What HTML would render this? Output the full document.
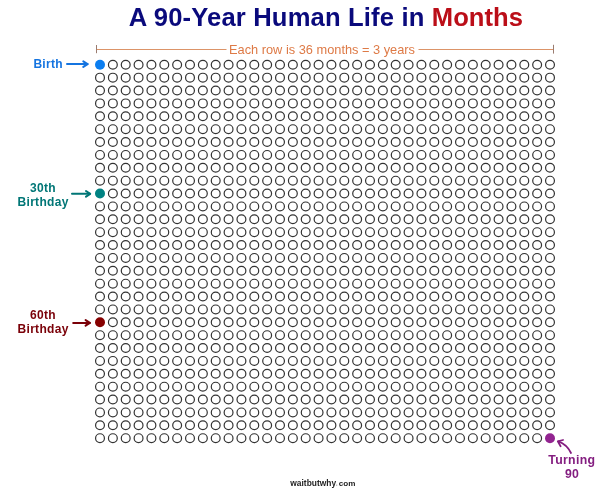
<!DOCTYPE html>
<html><head><meta charset="utf-8">
<style>
html,body{margin:0;padding:0;background:#fff;width:600px;height:492px;overflow:hidden}
svg{display:block;will-change:transform}
text{font-family:"Liberation Sans",sans-serif;font-weight:bold}
</style></head><body>
<svg width="600" height="492" viewBox="0 0 600 492">
<text x="128.8" y="26.45" font-size="25.6" fill="#0a0a7c"><tspan letter-spacing="0.16">A 90-Year Human Life in </tspan><tspan fill="#bb0e18" letter-spacing="0.02">Months</tspan></text>
<g stroke="#dc9468" stroke-width="1" fill="none">
<line x1="96.5" y1="49.5" x2="226.5" y2="49.5"/>
<line x1="418.5" y1="49.5" x2="553.5" y2="49.5"/>
</g>
<g stroke="#9a7c70" stroke-width="1">
<line x1="96.5" y1="45" x2="96.5" y2="53.2"/>
<line x1="553.5" y1="44.8" x2="553.5" y2="53.6"/>
</g>
<text x="322" y="53.8" font-size="12.8" fill="#de7a46" text-anchor="middle" style="font-weight:normal">Each row is 36 months = 3 years</text>
<g fill="none" stroke="#333" stroke-width="1.2">
<circle cx="112.86" cy="64.80" r="4.42"/>
<circle cx="125.71" cy="64.80" r="4.42"/>
<circle cx="138.57" cy="64.80" r="4.42"/>
<circle cx="151.43" cy="64.80" r="4.42"/>
<circle cx="164.29" cy="64.80" r="4.42"/>
<circle cx="177.14" cy="64.80" r="4.42"/>
<circle cx="190.00" cy="64.80" r="4.42"/>
<circle cx="202.86" cy="64.80" r="4.42"/>
<circle cx="215.71" cy="64.80" r="4.42"/>
<circle cx="228.57" cy="64.80" r="4.42"/>
<circle cx="241.43" cy="64.80" r="4.42"/>
<circle cx="254.29" cy="64.80" r="4.42"/>
<circle cx="267.14" cy="64.80" r="4.42"/>
<circle cx="280.00" cy="64.80" r="4.42"/>
<circle cx="292.86" cy="64.80" r="4.42"/>
<circle cx="305.71" cy="64.80" r="4.42"/>
<circle cx="318.57" cy="64.80" r="4.42"/>
<circle cx="331.43" cy="64.80" r="4.42"/>
<circle cx="344.29" cy="64.80" r="4.42"/>
<circle cx="357.14" cy="64.80" r="4.42"/>
<circle cx="370.00" cy="64.80" r="4.42"/>
<circle cx="382.86" cy="64.80" r="4.42"/>
<circle cx="395.71" cy="64.80" r="4.42"/>
<circle cx="408.57" cy="64.80" r="4.42"/>
<circle cx="421.43" cy="64.80" r="4.42"/>
<circle cx="434.29" cy="64.80" r="4.42"/>
<circle cx="447.14" cy="64.80" r="4.42"/>
<circle cx="460.00" cy="64.80" r="4.42"/>
<circle cx="472.86" cy="64.80" r="4.42"/>
<circle cx="485.71" cy="64.80" r="4.42"/>
<circle cx="498.57" cy="64.80" r="4.42"/>
<circle cx="511.43" cy="64.80" r="4.42"/>
<circle cx="524.29" cy="64.80" r="4.42"/>
<circle cx="537.14" cy="64.80" r="4.42"/>
<circle cx="550.00" cy="64.80" r="4.42"/>
<circle cx="100.00" cy="77.67" r="4.42"/>
<circle cx="112.86" cy="77.67" r="4.42"/>
<circle cx="125.71" cy="77.67" r="4.42"/>
<circle cx="138.57" cy="77.67" r="4.42"/>
<circle cx="151.43" cy="77.67" r="4.42"/>
<circle cx="164.29" cy="77.67" r="4.42"/>
<circle cx="177.14" cy="77.67" r="4.42"/>
<circle cx="190.00" cy="77.67" r="4.42"/>
<circle cx="202.86" cy="77.67" r="4.42"/>
<circle cx="215.71" cy="77.67" r="4.42"/>
<circle cx="228.57" cy="77.67" r="4.42"/>
<circle cx="241.43" cy="77.67" r="4.42"/>
<circle cx="254.29" cy="77.67" r="4.42"/>
<circle cx="267.14" cy="77.67" r="4.42"/>
<circle cx="280.00" cy="77.67" r="4.42"/>
<circle cx="292.86" cy="77.67" r="4.42"/>
<circle cx="305.71" cy="77.67" r="4.42"/>
<circle cx="318.57" cy="77.67" r="4.42"/>
<circle cx="331.43" cy="77.67" r="4.42"/>
<circle cx="344.29" cy="77.67" r="4.42"/>
<circle cx="357.14" cy="77.67" r="4.42"/>
<circle cx="370.00" cy="77.67" r="4.42"/>
<circle cx="382.86" cy="77.67" r="4.42"/>
<circle cx="395.71" cy="77.67" r="4.42"/>
<circle cx="408.57" cy="77.67" r="4.42"/>
<circle cx="421.43" cy="77.67" r="4.42"/>
<circle cx="434.29" cy="77.67" r="4.42"/>
<circle cx="447.14" cy="77.67" r="4.42"/>
<circle cx="460.00" cy="77.67" r="4.42"/>
<circle cx="472.86" cy="77.67" r="4.42"/>
<circle cx="485.71" cy="77.67" r="4.42"/>
<circle cx="498.57" cy="77.67" r="4.42"/>
<circle cx="511.43" cy="77.67" r="4.42"/>
<circle cx="524.29" cy="77.67" r="4.42"/>
<circle cx="537.14" cy="77.67" r="4.42"/>
<circle cx="550.00" cy="77.67" r="4.42"/>
<circle cx="100.00" cy="90.55" r="4.42"/>
<circle cx="112.86" cy="90.55" r="4.42"/>
<circle cx="125.71" cy="90.55" r="4.42"/>
<circle cx="138.57" cy="90.55" r="4.42"/>
<circle cx="151.43" cy="90.55" r="4.42"/>
<circle cx="164.29" cy="90.55" r="4.42"/>
<circle cx="177.14" cy="90.55" r="4.42"/>
<circle cx="190.00" cy="90.55" r="4.42"/>
<circle cx="202.86" cy="90.55" r="4.42"/>
<circle cx="215.71" cy="90.55" r="4.42"/>
<circle cx="228.57" cy="90.55" r="4.42"/>
<circle cx="241.43" cy="90.55" r="4.42"/>
<circle cx="254.29" cy="90.55" r="4.42"/>
<circle cx="267.14" cy="90.55" r="4.42"/>
<circle cx="280.00" cy="90.55" r="4.42"/>
<circle cx="292.86" cy="90.55" r="4.42"/>
<circle cx="305.71" cy="90.55" r="4.42"/>
<circle cx="318.57" cy="90.55" r="4.42"/>
<circle cx="331.43" cy="90.55" r="4.42"/>
<circle cx="344.29" cy="90.55" r="4.42"/>
<circle cx="357.14" cy="90.55" r="4.42"/>
<circle cx="370.00" cy="90.55" r="4.42"/>
<circle cx="382.86" cy="90.55" r="4.42"/>
<circle cx="395.71" cy="90.55" r="4.42"/>
<circle cx="408.57" cy="90.55" r="4.42"/>
<circle cx="421.43" cy="90.55" r="4.42"/>
<circle cx="434.29" cy="90.55" r="4.42"/>
<circle cx="447.14" cy="90.55" r="4.42"/>
<circle cx="460.00" cy="90.55" r="4.42"/>
<circle cx="472.86" cy="90.55" r="4.42"/>
<circle cx="485.71" cy="90.55" r="4.42"/>
<circle cx="498.57" cy="90.55" r="4.42"/>
<circle cx="511.43" cy="90.55" r="4.42"/>
<circle cx="524.29" cy="90.55" r="4.42"/>
<circle cx="537.14" cy="90.55" r="4.42"/>
<circle cx="550.00" cy="90.55" r="4.42"/>
<circle cx="100.00" cy="103.42" r="4.42"/>
<circle cx="112.86" cy="103.42" r="4.42"/>
<circle cx="125.71" cy="103.42" r="4.42"/>
<circle cx="138.57" cy="103.42" r="4.42"/>
<circle cx="151.43" cy="103.42" r="4.42"/>
<circle cx="164.29" cy="103.42" r="4.42"/>
<circle cx="177.14" cy="103.42" r="4.42"/>
<circle cx="190.00" cy="103.42" r="4.42"/>
<circle cx="202.86" cy="103.42" r="4.42"/>
<circle cx="215.71" cy="103.42" r="4.42"/>
<circle cx="228.57" cy="103.42" r="4.42"/>
<circle cx="241.43" cy="103.42" r="4.42"/>
<circle cx="254.29" cy="103.42" r="4.42"/>
<circle cx="267.14" cy="103.42" r="4.42"/>
<circle cx="280.00" cy="103.42" r="4.42"/>
<circle cx="292.86" cy="103.42" r="4.42"/>
<circle cx="305.71" cy="103.42" r="4.42"/>
<circle cx="318.57" cy="103.42" r="4.42"/>
<circle cx="331.43" cy="103.42" r="4.42"/>
<circle cx="344.29" cy="103.42" r="4.42"/>
<circle cx="357.14" cy="103.42" r="4.42"/>
<circle cx="370.00" cy="103.42" r="4.42"/>
<circle cx="382.86" cy="103.42" r="4.42"/>
<circle cx="395.71" cy="103.42" r="4.42"/>
<circle cx="408.57" cy="103.42" r="4.42"/>
<circle cx="421.43" cy="103.42" r="4.42"/>
<circle cx="434.29" cy="103.42" r="4.42"/>
<circle cx="447.14" cy="103.42" r="4.42"/>
<circle cx="460.00" cy="103.42" r="4.42"/>
<circle cx="472.86" cy="103.42" r="4.42"/>
<circle cx="485.71" cy="103.42" r="4.42"/>
<circle cx="498.57" cy="103.42" r="4.42"/>
<circle cx="511.43" cy="103.42" r="4.42"/>
<circle cx="524.29" cy="103.42" r="4.42"/>
<circle cx="537.14" cy="103.42" r="4.42"/>
<circle cx="550.00" cy="103.42" r="4.42"/>
<circle cx="100.00" cy="116.30" r="4.42"/>
<circle cx="112.86" cy="116.30" r="4.42"/>
<circle cx="125.71" cy="116.30" r="4.42"/>
<circle cx="138.57" cy="116.30" r="4.42"/>
<circle cx="151.43" cy="116.30" r="4.42"/>
<circle cx="164.29" cy="116.30" r="4.42"/>
<circle cx="177.14" cy="116.30" r="4.42"/>
<circle cx="190.00" cy="116.30" r="4.42"/>
<circle cx="202.86" cy="116.30" r="4.42"/>
<circle cx="215.71" cy="116.30" r="4.42"/>
<circle cx="228.57" cy="116.30" r="4.42"/>
<circle cx="241.43" cy="116.30" r="4.42"/>
<circle cx="254.29" cy="116.30" r="4.42"/>
<circle cx="267.14" cy="116.30" r="4.42"/>
<circle cx="280.00" cy="116.30" r="4.42"/>
<circle cx="292.86" cy="116.30" r="4.42"/>
<circle cx="305.71" cy="116.30" r="4.42"/>
<circle cx="318.57" cy="116.30" r="4.42"/>
<circle cx="331.43" cy="116.30" r="4.42"/>
<circle cx="344.29" cy="116.30" r="4.42"/>
<circle cx="357.14" cy="116.30" r="4.42"/>
<circle cx="370.00" cy="116.30" r="4.42"/>
<circle cx="382.86" cy="116.30" r="4.42"/>
<circle cx="395.71" cy="116.30" r="4.42"/>
<circle cx="408.57" cy="116.30" r="4.42"/>
<circle cx="421.43" cy="116.30" r="4.42"/>
<circle cx="434.29" cy="116.30" r="4.42"/>
<circle cx="447.14" cy="116.30" r="4.42"/>
<circle cx="460.00" cy="116.30" r="4.42"/>
<circle cx="472.86" cy="116.30" r="4.42"/>
<circle cx="485.71" cy="116.30" r="4.42"/>
<circle cx="498.57" cy="116.30" r="4.42"/>
<circle cx="511.43" cy="116.30" r="4.42"/>
<circle cx="524.29" cy="116.30" r="4.42"/>
<circle cx="537.14" cy="116.30" r="4.42"/>
<circle cx="550.00" cy="116.30" r="4.42"/>
<circle cx="100.00" cy="129.18" r="4.42"/>
<circle cx="112.86" cy="129.18" r="4.42"/>
<circle cx="125.71" cy="129.18" r="4.42"/>
<circle cx="138.57" cy="129.18" r="4.42"/>
<circle cx="151.43" cy="129.18" r="4.42"/>
<circle cx="164.29" cy="129.18" r="4.42"/>
<circle cx="177.14" cy="129.18" r="4.42"/>
<circle cx="190.00" cy="129.18" r="4.42"/>
<circle cx="202.86" cy="129.18" r="4.42"/>
<circle cx="215.71" cy="129.18" r="4.42"/>
<circle cx="228.57" cy="129.18" r="4.42"/>
<circle cx="241.43" cy="129.18" r="4.42"/>
<circle cx="254.29" cy="129.18" r="4.42"/>
<circle cx="267.14" cy="129.18" r="4.42"/>
<circle cx="280.00" cy="129.18" r="4.42"/>
<circle cx="292.86" cy="129.18" r="4.42"/>
<circle cx="305.71" cy="129.18" r="4.42"/>
<circle cx="318.57" cy="129.18" r="4.42"/>
<circle cx="331.43" cy="129.18" r="4.42"/>
<circle cx="344.29" cy="129.18" r="4.42"/>
<circle cx="357.14" cy="129.18" r="4.42"/>
<circle cx="370.00" cy="129.18" r="4.42"/>
<circle cx="382.86" cy="129.18" r="4.42"/>
<circle cx="395.71" cy="129.18" r="4.42"/>
<circle cx="408.57" cy="129.18" r="4.42"/>
<circle cx="421.43" cy="129.18" r="4.42"/>
<circle cx="434.29" cy="129.18" r="4.42"/>
<circle cx="447.14" cy="129.18" r="4.42"/>
<circle cx="460.00" cy="129.18" r="4.42"/>
<circle cx="472.86" cy="129.18" r="4.42"/>
<circle cx="485.71" cy="129.18" r="4.42"/>
<circle cx="498.57" cy="129.18" r="4.42"/>
<circle cx="511.43" cy="129.18" r="4.42"/>
<circle cx="524.29" cy="129.18" r="4.42"/>
<circle cx="537.14" cy="129.18" r="4.42"/>
<circle cx="550.00" cy="129.18" r="4.42"/>
<circle cx="100.00" cy="142.05" r="4.42"/>
<circle cx="112.86" cy="142.05" r="4.42"/>
<circle cx="125.71" cy="142.05" r="4.42"/>
<circle cx="138.57" cy="142.05" r="4.42"/>
<circle cx="151.43" cy="142.05" r="4.42"/>
<circle cx="164.29" cy="142.05" r="4.42"/>
<circle cx="177.14" cy="142.05" r="4.42"/>
<circle cx="190.00" cy="142.05" r="4.42"/>
<circle cx="202.86" cy="142.05" r="4.42"/>
<circle cx="215.71" cy="142.05" r="4.42"/>
<circle cx="228.57" cy="142.05" r="4.42"/>
<circle cx="241.43" cy="142.05" r="4.42"/>
<circle cx="254.29" cy="142.05" r="4.42"/>
<circle cx="267.14" cy="142.05" r="4.42"/>
<circle cx="280.00" cy="142.05" r="4.42"/>
<circle cx="292.86" cy="142.05" r="4.42"/>
<circle cx="305.71" cy="142.05" r="4.42"/>
<circle cx="318.57" cy="142.05" r="4.42"/>
<circle cx="331.43" cy="142.05" r="4.42"/>
<circle cx="344.29" cy="142.05" r="4.42"/>
<circle cx="357.14" cy="142.05" r="4.42"/>
<circle cx="370.00" cy="142.05" r="4.42"/>
<circle cx="382.86" cy="142.05" r="4.42"/>
<circle cx="395.71" cy="142.05" r="4.42"/>
<circle cx="408.57" cy="142.05" r="4.42"/>
<circle cx="421.43" cy="142.05" r="4.42"/>
<circle cx="434.29" cy="142.05" r="4.42"/>
<circle cx="447.14" cy="142.05" r="4.42"/>
<circle cx="460.00" cy="142.05" r="4.42"/>
<circle cx="472.86" cy="142.05" r="4.42"/>
<circle cx="485.71" cy="142.05" r="4.42"/>
<circle cx="498.57" cy="142.05" r="4.42"/>
<circle cx="511.43" cy="142.05" r="4.42"/>
<circle cx="524.29" cy="142.05" r="4.42"/>
<circle cx="537.14" cy="142.05" r="4.42"/>
<circle cx="550.00" cy="142.05" r="4.42"/>
<circle cx="100.00" cy="154.93" r="4.42"/>
<circle cx="112.86" cy="154.93" r="4.42"/>
<circle cx="125.71" cy="154.93" r="4.42"/>
<circle cx="138.57" cy="154.93" r="4.42"/>
<circle cx="151.43" cy="154.93" r="4.42"/>
<circle cx="164.29" cy="154.93" r="4.42"/>
<circle cx="177.14" cy="154.93" r="4.42"/>
<circle cx="190.00" cy="154.93" r="4.42"/>
<circle cx="202.86" cy="154.93" r="4.42"/>
<circle cx="215.71" cy="154.93" r="4.42"/>
<circle cx="228.57" cy="154.93" r="4.42"/>
<circle cx="241.43" cy="154.93" r="4.42"/>
<circle cx="254.29" cy="154.93" r="4.42"/>
<circle cx="267.14" cy="154.93" r="4.42"/>
<circle cx="280.00" cy="154.93" r="4.42"/>
<circle cx="292.86" cy="154.93" r="4.42"/>
<circle cx="305.71" cy="154.93" r="4.42"/>
<circle cx="318.57" cy="154.93" r="4.42"/>
<circle cx="331.43" cy="154.93" r="4.42"/>
<circle cx="344.29" cy="154.93" r="4.42"/>
<circle cx="357.14" cy="154.93" r="4.42"/>
<circle cx="370.00" cy="154.93" r="4.42"/>
<circle cx="382.86" cy="154.93" r="4.42"/>
<circle cx="395.71" cy="154.93" r="4.42"/>
<circle cx="408.57" cy="154.93" r="4.42"/>
<circle cx="421.43" cy="154.93" r="4.42"/>
<circle cx="434.29" cy="154.93" r="4.42"/>
<circle cx="447.14" cy="154.93" r="4.42"/>
<circle cx="460.00" cy="154.93" r="4.42"/>
<circle cx="472.86" cy="154.93" r="4.42"/>
<circle cx="485.71" cy="154.93" r="4.42"/>
<circle cx="498.57" cy="154.93" r="4.42"/>
<circle cx="511.43" cy="154.93" r="4.42"/>
<circle cx="524.29" cy="154.93" r="4.42"/>
<circle cx="537.14" cy="154.93" r="4.42"/>
<circle cx="550.00" cy="154.93" r="4.42"/>
<circle cx="100.00" cy="167.80" r="4.42"/>
<circle cx="112.86" cy="167.80" r="4.42"/>
<circle cx="125.71" cy="167.80" r="4.42"/>
<circle cx="138.57" cy="167.80" r="4.42"/>
<circle cx="151.43" cy="167.80" r="4.42"/>
<circle cx="164.29" cy="167.80" r="4.42"/>
<circle cx="177.14" cy="167.80" r="4.42"/>
<circle cx="190.00" cy="167.80" r="4.42"/>
<circle cx="202.86" cy="167.80" r="4.42"/>
<circle cx="215.71" cy="167.80" r="4.42"/>
<circle cx="228.57" cy="167.80" r="4.42"/>
<circle cx="241.43" cy="167.80" r="4.42"/>
<circle cx="254.29" cy="167.80" r="4.42"/>
<circle cx="267.14" cy="167.80" r="4.42"/>
<circle cx="280.00" cy="167.80" r="4.42"/>
<circle cx="292.86" cy="167.80" r="4.42"/>
<circle cx="305.71" cy="167.80" r="4.42"/>
<circle cx="318.57" cy="167.80" r="4.42"/>
<circle cx="331.43" cy="167.80" r="4.42"/>
<circle cx="344.29" cy="167.80" r="4.42"/>
<circle cx="357.14" cy="167.80" r="4.42"/>
<circle cx="370.00" cy="167.80" r="4.42"/>
<circle cx="382.86" cy="167.80" r="4.42"/>
<circle cx="395.71" cy="167.80" r="4.42"/>
<circle cx="408.57" cy="167.80" r="4.42"/>
<circle cx="421.43" cy="167.80" r="4.42"/>
<circle cx="434.29" cy="167.80" r="4.42"/>
<circle cx="447.14" cy="167.80" r="4.42"/>
<circle cx="460.00" cy="167.80" r="4.42"/>
<circle cx="472.86" cy="167.80" r="4.42"/>
<circle cx="485.71" cy="167.80" r="4.42"/>
<circle cx="498.57" cy="167.80" r="4.42"/>
<circle cx="511.43" cy="167.80" r="4.42"/>
<circle cx="524.29" cy="167.80" r="4.42"/>
<circle cx="537.14" cy="167.80" r="4.42"/>
<circle cx="550.00" cy="167.80" r="4.42"/>
<circle cx="100.00" cy="180.68" r="4.42"/>
<circle cx="112.86" cy="180.68" r="4.42"/>
<circle cx="125.71" cy="180.68" r="4.42"/>
<circle cx="138.57" cy="180.68" r="4.42"/>
<circle cx="151.43" cy="180.68" r="4.42"/>
<circle cx="164.29" cy="180.68" r="4.42"/>
<circle cx="177.14" cy="180.68" r="4.42"/>
<circle cx="190.00" cy="180.68" r="4.42"/>
<circle cx="202.86" cy="180.68" r="4.42"/>
<circle cx="215.71" cy="180.68" r="4.42"/>
<circle cx="228.57" cy="180.68" r="4.42"/>
<circle cx="241.43" cy="180.68" r="4.42"/>
<circle cx="254.29" cy="180.68" r="4.42"/>
<circle cx="267.14" cy="180.68" r="4.42"/>
<circle cx="280.00" cy="180.68" r="4.42"/>
<circle cx="292.86" cy="180.68" r="4.42"/>
<circle cx="305.71" cy="180.68" r="4.42"/>
<circle cx="318.57" cy="180.68" r="4.42"/>
<circle cx="331.43" cy="180.68" r="4.42"/>
<circle cx="344.29" cy="180.68" r="4.42"/>
<circle cx="357.14" cy="180.68" r="4.42"/>
<circle cx="370.00" cy="180.68" r="4.42"/>
<circle cx="382.86" cy="180.68" r="4.42"/>
<circle cx="395.71" cy="180.68" r="4.42"/>
<circle cx="408.57" cy="180.68" r="4.42"/>
<circle cx="421.43" cy="180.68" r="4.42"/>
<circle cx="434.29" cy="180.68" r="4.42"/>
<circle cx="447.14" cy="180.68" r="4.42"/>
<circle cx="460.00" cy="180.68" r="4.42"/>
<circle cx="472.86" cy="180.68" r="4.42"/>
<circle cx="485.71" cy="180.68" r="4.42"/>
<circle cx="498.57" cy="180.68" r="4.42"/>
<circle cx="511.43" cy="180.68" r="4.42"/>
<circle cx="524.29" cy="180.68" r="4.42"/>
<circle cx="537.14" cy="180.68" r="4.42"/>
<circle cx="550.00" cy="180.68" r="4.42"/>
<circle cx="112.86" cy="193.55" r="4.42"/>
<circle cx="125.71" cy="193.55" r="4.42"/>
<circle cx="138.57" cy="193.55" r="4.42"/>
<circle cx="151.43" cy="193.55" r="4.42"/>
<circle cx="164.29" cy="193.55" r="4.42"/>
<circle cx="177.14" cy="193.55" r="4.42"/>
<circle cx="190.00" cy="193.55" r="4.42"/>
<circle cx="202.86" cy="193.55" r="4.42"/>
<circle cx="215.71" cy="193.55" r="4.42"/>
<circle cx="228.57" cy="193.55" r="4.42"/>
<circle cx="241.43" cy="193.55" r="4.42"/>
<circle cx="254.29" cy="193.55" r="4.42"/>
<circle cx="267.14" cy="193.55" r="4.42"/>
<circle cx="280.00" cy="193.55" r="4.42"/>
<circle cx="292.86" cy="193.55" r="4.42"/>
<circle cx="305.71" cy="193.55" r="4.42"/>
<circle cx="318.57" cy="193.55" r="4.42"/>
<circle cx="331.43" cy="193.55" r="4.42"/>
<circle cx="344.29" cy="193.55" r="4.42"/>
<circle cx="357.14" cy="193.55" r="4.42"/>
<circle cx="370.00" cy="193.55" r="4.42"/>
<circle cx="382.86" cy="193.55" r="4.42"/>
<circle cx="395.71" cy="193.55" r="4.42"/>
<circle cx="408.57" cy="193.55" r="4.42"/>
<circle cx="421.43" cy="193.55" r="4.42"/>
<circle cx="434.29" cy="193.55" r="4.42"/>
<circle cx="447.14" cy="193.55" r="4.42"/>
<circle cx="460.00" cy="193.55" r="4.42"/>
<circle cx="472.86" cy="193.55" r="4.42"/>
<circle cx="485.71" cy="193.55" r="4.42"/>
<circle cx="498.57" cy="193.55" r="4.42"/>
<circle cx="511.43" cy="193.55" r="4.42"/>
<circle cx="524.29" cy="193.55" r="4.42"/>
<circle cx="537.14" cy="193.55" r="4.42"/>
<circle cx="550.00" cy="193.55" r="4.42"/>
<circle cx="100.00" cy="206.43" r="4.42"/>
<circle cx="112.86" cy="206.43" r="4.42"/>
<circle cx="125.71" cy="206.43" r="4.42"/>
<circle cx="138.57" cy="206.43" r="4.42"/>
<circle cx="151.43" cy="206.43" r="4.42"/>
<circle cx="164.29" cy="206.43" r="4.42"/>
<circle cx="177.14" cy="206.43" r="4.42"/>
<circle cx="190.00" cy="206.43" r="4.42"/>
<circle cx="202.86" cy="206.43" r="4.42"/>
<circle cx="215.71" cy="206.43" r="4.42"/>
<circle cx="228.57" cy="206.43" r="4.42"/>
<circle cx="241.43" cy="206.43" r="4.42"/>
<circle cx="254.29" cy="206.43" r="4.42"/>
<circle cx="267.14" cy="206.43" r="4.42"/>
<circle cx="280.00" cy="206.43" r="4.42"/>
<circle cx="292.86" cy="206.43" r="4.42"/>
<circle cx="305.71" cy="206.43" r="4.42"/>
<circle cx="318.57" cy="206.43" r="4.42"/>
<circle cx="331.43" cy="206.43" r="4.42"/>
<circle cx="344.29" cy="206.43" r="4.42"/>
<circle cx="357.14" cy="206.43" r="4.42"/>
<circle cx="370.00" cy="206.43" r="4.42"/>
<circle cx="382.86" cy="206.43" r="4.42"/>
<circle cx="395.71" cy="206.43" r="4.42"/>
<circle cx="408.57" cy="206.43" r="4.42"/>
<circle cx="421.43" cy="206.43" r="4.42"/>
<circle cx="434.29" cy="206.43" r="4.42"/>
<circle cx="447.14" cy="206.43" r="4.42"/>
<circle cx="460.00" cy="206.43" r="4.42"/>
<circle cx="472.86" cy="206.43" r="4.42"/>
<circle cx="485.71" cy="206.43" r="4.42"/>
<circle cx="498.57" cy="206.43" r="4.42"/>
<circle cx="511.43" cy="206.43" r="4.42"/>
<circle cx="524.29" cy="206.43" r="4.42"/>
<circle cx="537.14" cy="206.43" r="4.42"/>
<circle cx="550.00" cy="206.43" r="4.42"/>
<circle cx="100.00" cy="219.30" r="4.42"/>
<circle cx="112.86" cy="219.30" r="4.42"/>
<circle cx="125.71" cy="219.30" r="4.42"/>
<circle cx="138.57" cy="219.30" r="4.42"/>
<circle cx="151.43" cy="219.30" r="4.42"/>
<circle cx="164.29" cy="219.30" r="4.42"/>
<circle cx="177.14" cy="219.30" r="4.42"/>
<circle cx="190.00" cy="219.30" r="4.42"/>
<circle cx="202.86" cy="219.30" r="4.42"/>
<circle cx="215.71" cy="219.30" r="4.42"/>
<circle cx="228.57" cy="219.30" r="4.42"/>
<circle cx="241.43" cy="219.30" r="4.42"/>
<circle cx="254.29" cy="219.30" r="4.42"/>
<circle cx="267.14" cy="219.30" r="4.42"/>
<circle cx="280.00" cy="219.30" r="4.42"/>
<circle cx="292.86" cy="219.30" r="4.42"/>
<circle cx="305.71" cy="219.30" r="4.42"/>
<circle cx="318.57" cy="219.30" r="4.42"/>
<circle cx="331.43" cy="219.30" r="4.42"/>
<circle cx="344.29" cy="219.30" r="4.42"/>
<circle cx="357.14" cy="219.30" r="4.42"/>
<circle cx="370.00" cy="219.30" r="4.42"/>
<circle cx="382.86" cy="219.30" r="4.42"/>
<circle cx="395.71" cy="219.30" r="4.42"/>
<circle cx="408.57" cy="219.30" r="4.42"/>
<circle cx="421.43" cy="219.30" r="4.42"/>
<circle cx="434.29" cy="219.30" r="4.42"/>
<circle cx="447.14" cy="219.30" r="4.42"/>
<circle cx="460.00" cy="219.30" r="4.42"/>
<circle cx="472.86" cy="219.30" r="4.42"/>
<circle cx="485.71" cy="219.30" r="4.42"/>
<circle cx="498.57" cy="219.30" r="4.42"/>
<circle cx="511.43" cy="219.30" r="4.42"/>
<circle cx="524.29" cy="219.30" r="4.42"/>
<circle cx="537.14" cy="219.30" r="4.42"/>
<circle cx="550.00" cy="219.30" r="4.42"/>
<circle cx="100.00" cy="232.18" r="4.42"/>
<circle cx="112.86" cy="232.18" r="4.42"/>
<circle cx="125.71" cy="232.18" r="4.42"/>
<circle cx="138.57" cy="232.18" r="4.42"/>
<circle cx="151.43" cy="232.18" r="4.42"/>
<circle cx="164.29" cy="232.18" r="4.42"/>
<circle cx="177.14" cy="232.18" r="4.42"/>
<circle cx="190.00" cy="232.18" r="4.42"/>
<circle cx="202.86" cy="232.18" r="4.42"/>
<circle cx="215.71" cy="232.18" r="4.42"/>
<circle cx="228.57" cy="232.18" r="4.42"/>
<circle cx="241.43" cy="232.18" r="4.42"/>
<circle cx="254.29" cy="232.18" r="4.42"/>
<circle cx="267.14" cy="232.18" r="4.42"/>
<circle cx="280.00" cy="232.18" r="4.42"/>
<circle cx="292.86" cy="232.18" r="4.42"/>
<circle cx="305.71" cy="232.18" r="4.42"/>
<circle cx="318.57" cy="232.18" r="4.42"/>
<circle cx="331.43" cy="232.18" r="4.42"/>
<circle cx="344.29" cy="232.18" r="4.42"/>
<circle cx="357.14" cy="232.18" r="4.42"/>
<circle cx="370.00" cy="232.18" r="4.42"/>
<circle cx="382.86" cy="232.18" r="4.42"/>
<circle cx="395.71" cy="232.18" r="4.42"/>
<circle cx="408.57" cy="232.18" r="4.42"/>
<circle cx="421.43" cy="232.18" r="4.42"/>
<circle cx="434.29" cy="232.18" r="4.42"/>
<circle cx="447.14" cy="232.18" r="4.42"/>
<circle cx="460.00" cy="232.18" r="4.42"/>
<circle cx="472.86" cy="232.18" r="4.42"/>
<circle cx="485.71" cy="232.18" r="4.42"/>
<circle cx="498.57" cy="232.18" r="4.42"/>
<circle cx="511.43" cy="232.18" r="4.42"/>
<circle cx="524.29" cy="232.18" r="4.42"/>
<circle cx="537.14" cy="232.18" r="4.42"/>
<circle cx="550.00" cy="232.18" r="4.42"/>
<circle cx="100.00" cy="245.05" r="4.42"/>
<circle cx="112.86" cy="245.05" r="4.42"/>
<circle cx="125.71" cy="245.05" r="4.42"/>
<circle cx="138.57" cy="245.05" r="4.42"/>
<circle cx="151.43" cy="245.05" r="4.42"/>
<circle cx="164.29" cy="245.05" r="4.42"/>
<circle cx="177.14" cy="245.05" r="4.42"/>
<circle cx="190.00" cy="245.05" r="4.42"/>
<circle cx="202.86" cy="245.05" r="4.42"/>
<circle cx="215.71" cy="245.05" r="4.42"/>
<circle cx="228.57" cy="245.05" r="4.42"/>
<circle cx="241.43" cy="245.05" r="4.42"/>
<circle cx="254.29" cy="245.05" r="4.42"/>
<circle cx="267.14" cy="245.05" r="4.42"/>
<circle cx="280.00" cy="245.05" r="4.42"/>
<circle cx="292.86" cy="245.05" r="4.42"/>
<circle cx="305.71" cy="245.05" r="4.42"/>
<circle cx="318.57" cy="245.05" r="4.42"/>
<circle cx="331.43" cy="245.05" r="4.42"/>
<circle cx="344.29" cy="245.05" r="4.42"/>
<circle cx="357.14" cy="245.05" r="4.42"/>
<circle cx="370.00" cy="245.05" r="4.42"/>
<circle cx="382.86" cy="245.05" r="4.42"/>
<circle cx="395.71" cy="245.05" r="4.42"/>
<circle cx="408.57" cy="245.05" r="4.42"/>
<circle cx="421.43" cy="245.05" r="4.42"/>
<circle cx="434.29" cy="245.05" r="4.42"/>
<circle cx="447.14" cy="245.05" r="4.42"/>
<circle cx="460.00" cy="245.05" r="4.42"/>
<circle cx="472.86" cy="245.05" r="4.42"/>
<circle cx="485.71" cy="245.05" r="4.42"/>
<circle cx="498.57" cy="245.05" r="4.42"/>
<circle cx="511.43" cy="245.05" r="4.42"/>
<circle cx="524.29" cy="245.05" r="4.42"/>
<circle cx="537.14" cy="245.05" r="4.42"/>
<circle cx="550.00" cy="245.05" r="4.42"/>
<circle cx="100.00" cy="257.93" r="4.42"/>
<circle cx="112.86" cy="257.93" r="4.42"/>
<circle cx="125.71" cy="257.93" r="4.42"/>
<circle cx="138.57" cy="257.93" r="4.42"/>
<circle cx="151.43" cy="257.93" r="4.42"/>
<circle cx="164.29" cy="257.93" r="4.42"/>
<circle cx="177.14" cy="257.93" r="4.42"/>
<circle cx="190.00" cy="257.93" r="4.42"/>
<circle cx="202.86" cy="257.93" r="4.42"/>
<circle cx="215.71" cy="257.93" r="4.42"/>
<circle cx="228.57" cy="257.93" r="4.42"/>
<circle cx="241.43" cy="257.93" r="4.42"/>
<circle cx="254.29" cy="257.93" r="4.42"/>
<circle cx="267.14" cy="257.93" r="4.42"/>
<circle cx="280.00" cy="257.93" r="4.42"/>
<circle cx="292.86" cy="257.93" r="4.42"/>
<circle cx="305.71" cy="257.93" r="4.42"/>
<circle cx="318.57" cy="257.93" r="4.42"/>
<circle cx="331.43" cy="257.93" r="4.42"/>
<circle cx="344.29" cy="257.93" r="4.42"/>
<circle cx="357.14" cy="257.93" r="4.42"/>
<circle cx="370.00" cy="257.93" r="4.42"/>
<circle cx="382.86" cy="257.93" r="4.42"/>
<circle cx="395.71" cy="257.93" r="4.42"/>
<circle cx="408.57" cy="257.93" r="4.42"/>
<circle cx="421.43" cy="257.93" r="4.42"/>
<circle cx="434.29" cy="257.93" r="4.42"/>
<circle cx="447.14" cy="257.93" r="4.42"/>
<circle cx="460.00" cy="257.93" r="4.42"/>
<circle cx="472.86" cy="257.93" r="4.42"/>
<circle cx="485.71" cy="257.93" r="4.42"/>
<circle cx="498.57" cy="257.93" r="4.42"/>
<circle cx="511.43" cy="257.93" r="4.42"/>
<circle cx="524.29" cy="257.93" r="4.42"/>
<circle cx="537.14" cy="257.93" r="4.42"/>
<circle cx="550.00" cy="257.93" r="4.42"/>
<circle cx="100.00" cy="270.80" r="4.42"/>
<circle cx="112.86" cy="270.80" r="4.42"/>
<circle cx="125.71" cy="270.80" r="4.42"/>
<circle cx="138.57" cy="270.80" r="4.42"/>
<circle cx="151.43" cy="270.80" r="4.42"/>
<circle cx="164.29" cy="270.80" r="4.42"/>
<circle cx="177.14" cy="270.80" r="4.42"/>
<circle cx="190.00" cy="270.80" r="4.42"/>
<circle cx="202.86" cy="270.80" r="4.42"/>
<circle cx="215.71" cy="270.80" r="4.42"/>
<circle cx="228.57" cy="270.80" r="4.42"/>
<circle cx="241.43" cy="270.80" r="4.42"/>
<circle cx="254.29" cy="270.80" r="4.42"/>
<circle cx="267.14" cy="270.80" r="4.42"/>
<circle cx="280.00" cy="270.80" r="4.42"/>
<circle cx="292.86" cy="270.80" r="4.42"/>
<circle cx="305.71" cy="270.80" r="4.42"/>
<circle cx="318.57" cy="270.80" r="4.42"/>
<circle cx="331.43" cy="270.80" r="4.42"/>
<circle cx="344.29" cy="270.80" r="4.42"/>
<circle cx="357.14" cy="270.80" r="4.42"/>
<circle cx="370.00" cy="270.80" r="4.42"/>
<circle cx="382.86" cy="270.80" r="4.42"/>
<circle cx="395.71" cy="270.80" r="4.42"/>
<circle cx="408.57" cy="270.80" r="4.42"/>
<circle cx="421.43" cy="270.80" r="4.42"/>
<circle cx="434.29" cy="270.80" r="4.42"/>
<circle cx="447.14" cy="270.80" r="4.42"/>
<circle cx="460.00" cy="270.80" r="4.42"/>
<circle cx="472.86" cy="270.80" r="4.42"/>
<circle cx="485.71" cy="270.80" r="4.42"/>
<circle cx="498.57" cy="270.80" r="4.42"/>
<circle cx="511.43" cy="270.80" r="4.42"/>
<circle cx="524.29" cy="270.80" r="4.42"/>
<circle cx="537.14" cy="270.80" r="4.42"/>
<circle cx="550.00" cy="270.80" r="4.42"/>
<circle cx="100.00" cy="283.68" r="4.42"/>
<circle cx="112.86" cy="283.68" r="4.42"/>
<circle cx="125.71" cy="283.68" r="4.42"/>
<circle cx="138.57" cy="283.68" r="4.42"/>
<circle cx="151.43" cy="283.68" r="4.42"/>
<circle cx="164.29" cy="283.68" r="4.42"/>
<circle cx="177.14" cy="283.68" r="4.42"/>
<circle cx="190.00" cy="283.68" r="4.42"/>
<circle cx="202.86" cy="283.68" r="4.42"/>
<circle cx="215.71" cy="283.68" r="4.42"/>
<circle cx="228.57" cy="283.68" r="4.42"/>
<circle cx="241.43" cy="283.68" r="4.42"/>
<circle cx="254.29" cy="283.68" r="4.42"/>
<circle cx="267.14" cy="283.68" r="4.42"/>
<circle cx="280.00" cy="283.68" r="4.42"/>
<circle cx="292.86" cy="283.68" r="4.42"/>
<circle cx="305.71" cy="283.68" r="4.42"/>
<circle cx="318.57" cy="283.68" r="4.42"/>
<circle cx="331.43" cy="283.68" r="4.42"/>
<circle cx="344.29" cy="283.68" r="4.42"/>
<circle cx="357.14" cy="283.68" r="4.42"/>
<circle cx="370.00" cy="283.68" r="4.42"/>
<circle cx="382.86" cy="283.68" r="4.42"/>
<circle cx="395.71" cy="283.68" r="4.42"/>
<circle cx="408.57" cy="283.68" r="4.42"/>
<circle cx="421.43" cy="283.68" r="4.42"/>
<circle cx="434.29" cy="283.68" r="4.42"/>
<circle cx="447.14" cy="283.68" r="4.42"/>
<circle cx="460.00" cy="283.68" r="4.42"/>
<circle cx="472.86" cy="283.68" r="4.42"/>
<circle cx="485.71" cy="283.68" r="4.42"/>
<circle cx="498.57" cy="283.68" r="4.42"/>
<circle cx="511.43" cy="283.68" r="4.42"/>
<circle cx="524.29" cy="283.68" r="4.42"/>
<circle cx="537.14" cy="283.68" r="4.42"/>
<circle cx="550.00" cy="283.68" r="4.42"/>
<circle cx="100.00" cy="296.55" r="4.42"/>
<circle cx="112.86" cy="296.55" r="4.42"/>
<circle cx="125.71" cy="296.55" r="4.42"/>
<circle cx="138.57" cy="296.55" r="4.42"/>
<circle cx="151.43" cy="296.55" r="4.42"/>
<circle cx="164.29" cy="296.55" r="4.42"/>
<circle cx="177.14" cy="296.55" r="4.42"/>
<circle cx="190.00" cy="296.55" r="4.42"/>
<circle cx="202.86" cy="296.55" r="4.42"/>
<circle cx="215.71" cy="296.55" r="4.42"/>
<circle cx="228.57" cy="296.55" r="4.42"/>
<circle cx="241.43" cy="296.55" r="4.42"/>
<circle cx="254.29" cy="296.55" r="4.42"/>
<circle cx="267.14" cy="296.55" r="4.42"/>
<circle cx="280.00" cy="296.55" r="4.42"/>
<circle cx="292.86" cy="296.55" r="4.42"/>
<circle cx="305.71" cy="296.55" r="4.42"/>
<circle cx="318.57" cy="296.55" r="4.42"/>
<circle cx="331.43" cy="296.55" r="4.42"/>
<circle cx="344.29" cy="296.55" r="4.42"/>
<circle cx="357.14" cy="296.55" r="4.42"/>
<circle cx="370.00" cy="296.55" r="4.42"/>
<circle cx="382.86" cy="296.55" r="4.42"/>
<circle cx="395.71" cy="296.55" r="4.42"/>
<circle cx="408.57" cy="296.55" r="4.42"/>
<circle cx="421.43" cy="296.55" r="4.42"/>
<circle cx="434.29" cy="296.55" r="4.42"/>
<circle cx="447.14" cy="296.55" r="4.42"/>
<circle cx="460.00" cy="296.55" r="4.42"/>
<circle cx="472.86" cy="296.55" r="4.42"/>
<circle cx="485.71" cy="296.55" r="4.42"/>
<circle cx="498.57" cy="296.55" r="4.42"/>
<circle cx="511.43" cy="296.55" r="4.42"/>
<circle cx="524.29" cy="296.55" r="4.42"/>
<circle cx="537.14" cy="296.55" r="4.42"/>
<circle cx="550.00" cy="296.55" r="4.42"/>
<circle cx="100.00" cy="309.43" r="4.42"/>
<circle cx="112.86" cy="309.43" r="4.42"/>
<circle cx="125.71" cy="309.43" r="4.42"/>
<circle cx="138.57" cy="309.43" r="4.42"/>
<circle cx="151.43" cy="309.43" r="4.42"/>
<circle cx="164.29" cy="309.43" r="4.42"/>
<circle cx="177.14" cy="309.43" r="4.42"/>
<circle cx="190.00" cy="309.43" r="4.42"/>
<circle cx="202.86" cy="309.43" r="4.42"/>
<circle cx="215.71" cy="309.43" r="4.42"/>
<circle cx="228.57" cy="309.43" r="4.42"/>
<circle cx="241.43" cy="309.43" r="4.42"/>
<circle cx="254.29" cy="309.43" r="4.42"/>
<circle cx="267.14" cy="309.43" r="4.42"/>
<circle cx="280.00" cy="309.43" r="4.42"/>
<circle cx="292.86" cy="309.43" r="4.42"/>
<circle cx="305.71" cy="309.43" r="4.42"/>
<circle cx="318.57" cy="309.43" r="4.42"/>
<circle cx="331.43" cy="309.43" r="4.42"/>
<circle cx="344.29" cy="309.43" r="4.42"/>
<circle cx="357.14" cy="309.43" r="4.42"/>
<circle cx="370.00" cy="309.43" r="4.42"/>
<circle cx="382.86" cy="309.43" r="4.42"/>
<circle cx="395.71" cy="309.43" r="4.42"/>
<circle cx="408.57" cy="309.43" r="4.42"/>
<circle cx="421.43" cy="309.43" r="4.42"/>
<circle cx="434.29" cy="309.43" r="4.42"/>
<circle cx="447.14" cy="309.43" r="4.42"/>
<circle cx="460.00" cy="309.43" r="4.42"/>
<circle cx="472.86" cy="309.43" r="4.42"/>
<circle cx="485.71" cy="309.43" r="4.42"/>
<circle cx="498.57" cy="309.43" r="4.42"/>
<circle cx="511.43" cy="309.43" r="4.42"/>
<circle cx="524.29" cy="309.43" r="4.42"/>
<circle cx="537.14" cy="309.43" r="4.42"/>
<circle cx="550.00" cy="309.43" r="4.42"/>
<circle cx="112.86" cy="322.30" r="4.42"/>
<circle cx="125.71" cy="322.30" r="4.42"/>
<circle cx="138.57" cy="322.30" r="4.42"/>
<circle cx="151.43" cy="322.30" r="4.42"/>
<circle cx="164.29" cy="322.30" r="4.42"/>
<circle cx="177.14" cy="322.30" r="4.42"/>
<circle cx="190.00" cy="322.30" r="4.42"/>
<circle cx="202.86" cy="322.30" r="4.42"/>
<circle cx="215.71" cy="322.30" r="4.42"/>
<circle cx="228.57" cy="322.30" r="4.42"/>
<circle cx="241.43" cy="322.30" r="4.42"/>
<circle cx="254.29" cy="322.30" r="4.42"/>
<circle cx="267.14" cy="322.30" r="4.42"/>
<circle cx="280.00" cy="322.30" r="4.42"/>
<circle cx="292.86" cy="322.30" r="4.42"/>
<circle cx="305.71" cy="322.30" r="4.42"/>
<circle cx="318.57" cy="322.30" r="4.42"/>
<circle cx="331.43" cy="322.30" r="4.42"/>
<circle cx="344.29" cy="322.30" r="4.42"/>
<circle cx="357.14" cy="322.30" r="4.42"/>
<circle cx="370.00" cy="322.30" r="4.42"/>
<circle cx="382.86" cy="322.30" r="4.42"/>
<circle cx="395.71" cy="322.30" r="4.42"/>
<circle cx="408.57" cy="322.30" r="4.42"/>
<circle cx="421.43" cy="322.30" r="4.42"/>
<circle cx="434.29" cy="322.30" r="4.42"/>
<circle cx="447.14" cy="322.30" r="4.42"/>
<circle cx="460.00" cy="322.30" r="4.42"/>
<circle cx="472.86" cy="322.30" r="4.42"/>
<circle cx="485.71" cy="322.30" r="4.42"/>
<circle cx="498.57" cy="322.30" r="4.42"/>
<circle cx="511.43" cy="322.30" r="4.42"/>
<circle cx="524.29" cy="322.30" r="4.42"/>
<circle cx="537.14" cy="322.30" r="4.42"/>
<circle cx="550.00" cy="322.30" r="4.42"/>
<circle cx="100.00" cy="335.18" r="4.42"/>
<circle cx="112.86" cy="335.18" r="4.42"/>
<circle cx="125.71" cy="335.18" r="4.42"/>
<circle cx="138.57" cy="335.18" r="4.42"/>
<circle cx="151.43" cy="335.18" r="4.42"/>
<circle cx="164.29" cy="335.18" r="4.42"/>
<circle cx="177.14" cy="335.18" r="4.42"/>
<circle cx="190.00" cy="335.18" r="4.42"/>
<circle cx="202.86" cy="335.18" r="4.42"/>
<circle cx="215.71" cy="335.18" r="4.42"/>
<circle cx="228.57" cy="335.18" r="4.42"/>
<circle cx="241.43" cy="335.18" r="4.42"/>
<circle cx="254.29" cy="335.18" r="4.42"/>
<circle cx="267.14" cy="335.18" r="4.42"/>
<circle cx="280.00" cy="335.18" r="4.42"/>
<circle cx="292.86" cy="335.18" r="4.42"/>
<circle cx="305.71" cy="335.18" r="4.42"/>
<circle cx="318.57" cy="335.18" r="4.42"/>
<circle cx="331.43" cy="335.18" r="4.42"/>
<circle cx="344.29" cy="335.18" r="4.42"/>
<circle cx="357.14" cy="335.18" r="4.42"/>
<circle cx="370.00" cy="335.18" r="4.42"/>
<circle cx="382.86" cy="335.18" r="4.42"/>
<circle cx="395.71" cy="335.18" r="4.42"/>
<circle cx="408.57" cy="335.18" r="4.42"/>
<circle cx="421.43" cy="335.18" r="4.42"/>
<circle cx="434.29" cy="335.18" r="4.42"/>
<circle cx="447.14" cy="335.18" r="4.42"/>
<circle cx="460.00" cy="335.18" r="4.42"/>
<circle cx="472.86" cy="335.18" r="4.42"/>
<circle cx="485.71" cy="335.18" r="4.42"/>
<circle cx="498.57" cy="335.18" r="4.42"/>
<circle cx="511.43" cy="335.18" r="4.42"/>
<circle cx="524.29" cy="335.18" r="4.42"/>
<circle cx="537.14" cy="335.18" r="4.42"/>
<circle cx="550.00" cy="335.18" r="4.42"/>
<circle cx="100.00" cy="348.05" r="4.42"/>
<circle cx="112.86" cy="348.05" r="4.42"/>
<circle cx="125.71" cy="348.05" r="4.42"/>
<circle cx="138.57" cy="348.05" r="4.42"/>
<circle cx="151.43" cy="348.05" r="4.42"/>
<circle cx="164.29" cy="348.05" r="4.42"/>
<circle cx="177.14" cy="348.05" r="4.42"/>
<circle cx="190.00" cy="348.05" r="4.42"/>
<circle cx="202.86" cy="348.05" r="4.42"/>
<circle cx="215.71" cy="348.05" r="4.42"/>
<circle cx="228.57" cy="348.05" r="4.42"/>
<circle cx="241.43" cy="348.05" r="4.42"/>
<circle cx="254.29" cy="348.05" r="4.42"/>
<circle cx="267.14" cy="348.05" r="4.42"/>
<circle cx="280.00" cy="348.05" r="4.42"/>
<circle cx="292.86" cy="348.05" r="4.42"/>
<circle cx="305.71" cy="348.05" r="4.42"/>
<circle cx="318.57" cy="348.05" r="4.42"/>
<circle cx="331.43" cy="348.05" r="4.42"/>
<circle cx="344.29" cy="348.05" r="4.42"/>
<circle cx="357.14" cy="348.05" r="4.42"/>
<circle cx="370.00" cy="348.05" r="4.42"/>
<circle cx="382.86" cy="348.05" r="4.42"/>
<circle cx="395.71" cy="348.05" r="4.42"/>
<circle cx="408.57" cy="348.05" r="4.42"/>
<circle cx="421.43" cy="348.05" r="4.42"/>
<circle cx="434.29" cy="348.05" r="4.42"/>
<circle cx="447.14" cy="348.05" r="4.42"/>
<circle cx="460.00" cy="348.05" r="4.42"/>
<circle cx="472.86" cy="348.05" r="4.42"/>
<circle cx="485.71" cy="348.05" r="4.42"/>
<circle cx="498.57" cy="348.05" r="4.42"/>
<circle cx="511.43" cy="348.05" r="4.42"/>
<circle cx="524.29" cy="348.05" r="4.42"/>
<circle cx="537.14" cy="348.05" r="4.42"/>
<circle cx="550.00" cy="348.05" r="4.42"/>
<circle cx="100.00" cy="360.93" r="4.42"/>
<circle cx="112.86" cy="360.93" r="4.42"/>
<circle cx="125.71" cy="360.93" r="4.42"/>
<circle cx="138.57" cy="360.93" r="4.42"/>
<circle cx="151.43" cy="360.93" r="4.42"/>
<circle cx="164.29" cy="360.93" r="4.42"/>
<circle cx="177.14" cy="360.93" r="4.42"/>
<circle cx="190.00" cy="360.93" r="4.42"/>
<circle cx="202.86" cy="360.93" r="4.42"/>
<circle cx="215.71" cy="360.93" r="4.42"/>
<circle cx="228.57" cy="360.93" r="4.42"/>
<circle cx="241.43" cy="360.93" r="4.42"/>
<circle cx="254.29" cy="360.93" r="4.42"/>
<circle cx="267.14" cy="360.93" r="4.42"/>
<circle cx="280.00" cy="360.93" r="4.42"/>
<circle cx="292.86" cy="360.93" r="4.42"/>
<circle cx="305.71" cy="360.93" r="4.42"/>
<circle cx="318.57" cy="360.93" r="4.42"/>
<circle cx="331.43" cy="360.93" r="4.42"/>
<circle cx="344.29" cy="360.93" r="4.42"/>
<circle cx="357.14" cy="360.93" r="4.42"/>
<circle cx="370.00" cy="360.93" r="4.42"/>
<circle cx="382.86" cy="360.93" r="4.42"/>
<circle cx="395.71" cy="360.93" r="4.42"/>
<circle cx="408.57" cy="360.93" r="4.42"/>
<circle cx="421.43" cy="360.93" r="4.42"/>
<circle cx="434.29" cy="360.93" r="4.42"/>
<circle cx="447.14" cy="360.93" r="4.42"/>
<circle cx="460.00" cy="360.93" r="4.42"/>
<circle cx="472.86" cy="360.93" r="4.42"/>
<circle cx="485.71" cy="360.93" r="4.42"/>
<circle cx="498.57" cy="360.93" r="4.42"/>
<circle cx="511.43" cy="360.93" r="4.42"/>
<circle cx="524.29" cy="360.93" r="4.42"/>
<circle cx="537.14" cy="360.93" r="4.42"/>
<circle cx="550.00" cy="360.93" r="4.42"/>
<circle cx="100.00" cy="373.80" r="4.42"/>
<circle cx="112.86" cy="373.80" r="4.42"/>
<circle cx="125.71" cy="373.80" r="4.42"/>
<circle cx="138.57" cy="373.80" r="4.42"/>
<circle cx="151.43" cy="373.80" r="4.42"/>
<circle cx="164.29" cy="373.80" r="4.42"/>
<circle cx="177.14" cy="373.80" r="4.42"/>
<circle cx="190.00" cy="373.80" r="4.42"/>
<circle cx="202.86" cy="373.80" r="4.42"/>
<circle cx="215.71" cy="373.80" r="4.42"/>
<circle cx="228.57" cy="373.80" r="4.42"/>
<circle cx="241.43" cy="373.80" r="4.42"/>
<circle cx="254.29" cy="373.80" r="4.42"/>
<circle cx="267.14" cy="373.80" r="4.42"/>
<circle cx="280.00" cy="373.80" r="4.42"/>
<circle cx="292.86" cy="373.80" r="4.42"/>
<circle cx="305.71" cy="373.80" r="4.42"/>
<circle cx="318.57" cy="373.80" r="4.42"/>
<circle cx="331.43" cy="373.80" r="4.42"/>
<circle cx="344.29" cy="373.80" r="4.42"/>
<circle cx="357.14" cy="373.80" r="4.42"/>
<circle cx="370.00" cy="373.80" r="4.42"/>
<circle cx="382.86" cy="373.80" r="4.42"/>
<circle cx="395.71" cy="373.80" r="4.42"/>
<circle cx="408.57" cy="373.80" r="4.42"/>
<circle cx="421.43" cy="373.80" r="4.42"/>
<circle cx="434.29" cy="373.80" r="4.42"/>
<circle cx="447.14" cy="373.80" r="4.42"/>
<circle cx="460.00" cy="373.80" r="4.42"/>
<circle cx="472.86" cy="373.80" r="4.42"/>
<circle cx="485.71" cy="373.80" r="4.42"/>
<circle cx="498.57" cy="373.80" r="4.42"/>
<circle cx="511.43" cy="373.80" r="4.42"/>
<circle cx="524.29" cy="373.80" r="4.42"/>
<circle cx="537.14" cy="373.80" r="4.42"/>
<circle cx="550.00" cy="373.80" r="4.42"/>
<circle cx="100.00" cy="386.68" r="4.42"/>
<circle cx="112.86" cy="386.68" r="4.42"/>
<circle cx="125.71" cy="386.68" r="4.42"/>
<circle cx="138.57" cy="386.68" r="4.42"/>
<circle cx="151.43" cy="386.68" r="4.42"/>
<circle cx="164.29" cy="386.68" r="4.42"/>
<circle cx="177.14" cy="386.68" r="4.42"/>
<circle cx="190.00" cy="386.68" r="4.42"/>
<circle cx="202.86" cy="386.68" r="4.42"/>
<circle cx="215.71" cy="386.68" r="4.42"/>
<circle cx="228.57" cy="386.68" r="4.42"/>
<circle cx="241.43" cy="386.68" r="4.42"/>
<circle cx="254.29" cy="386.68" r="4.42"/>
<circle cx="267.14" cy="386.68" r="4.42"/>
<circle cx="280.00" cy="386.68" r="4.42"/>
<circle cx="292.86" cy="386.68" r="4.42"/>
<circle cx="305.71" cy="386.68" r="4.42"/>
<circle cx="318.57" cy="386.68" r="4.42"/>
<circle cx="331.43" cy="386.68" r="4.42"/>
<circle cx="344.29" cy="386.68" r="4.42"/>
<circle cx="357.14" cy="386.68" r="4.42"/>
<circle cx="370.00" cy="386.68" r="4.42"/>
<circle cx="382.86" cy="386.68" r="4.42"/>
<circle cx="395.71" cy="386.68" r="4.42"/>
<circle cx="408.57" cy="386.68" r="4.42"/>
<circle cx="421.43" cy="386.68" r="4.42"/>
<circle cx="434.29" cy="386.68" r="4.42"/>
<circle cx="447.14" cy="386.68" r="4.42"/>
<circle cx="460.00" cy="386.68" r="4.42"/>
<circle cx="472.86" cy="386.68" r="4.42"/>
<circle cx="485.71" cy="386.68" r="4.42"/>
<circle cx="498.57" cy="386.68" r="4.42"/>
<circle cx="511.43" cy="386.68" r="4.42"/>
<circle cx="524.29" cy="386.68" r="4.42"/>
<circle cx="537.14" cy="386.68" r="4.42"/>
<circle cx="550.00" cy="386.68" r="4.42"/>
<circle cx="100.00" cy="399.55" r="4.42"/>
<circle cx="112.86" cy="399.55" r="4.42"/>
<circle cx="125.71" cy="399.55" r="4.42"/>
<circle cx="138.57" cy="399.55" r="4.42"/>
<circle cx="151.43" cy="399.55" r="4.42"/>
<circle cx="164.29" cy="399.55" r="4.42"/>
<circle cx="177.14" cy="399.55" r="4.42"/>
<circle cx="190.00" cy="399.55" r="4.42"/>
<circle cx="202.86" cy="399.55" r="4.42"/>
<circle cx="215.71" cy="399.55" r="4.42"/>
<circle cx="228.57" cy="399.55" r="4.42"/>
<circle cx="241.43" cy="399.55" r="4.42"/>
<circle cx="254.29" cy="399.55" r="4.42"/>
<circle cx="267.14" cy="399.55" r="4.42"/>
<circle cx="280.00" cy="399.55" r="4.42"/>
<circle cx="292.86" cy="399.55" r="4.42"/>
<circle cx="305.71" cy="399.55" r="4.42"/>
<circle cx="318.57" cy="399.55" r="4.42"/>
<circle cx="331.43" cy="399.55" r="4.42"/>
<circle cx="344.29" cy="399.55" r="4.42"/>
<circle cx="357.14" cy="399.55" r="4.42"/>
<circle cx="370.00" cy="399.55" r="4.42"/>
<circle cx="382.86" cy="399.55" r="4.42"/>
<circle cx="395.71" cy="399.55" r="4.42"/>
<circle cx="408.57" cy="399.55" r="4.42"/>
<circle cx="421.43" cy="399.55" r="4.42"/>
<circle cx="434.29" cy="399.55" r="4.42"/>
<circle cx="447.14" cy="399.55" r="4.42"/>
<circle cx="460.00" cy="399.55" r="4.42"/>
<circle cx="472.86" cy="399.55" r="4.42"/>
<circle cx="485.71" cy="399.55" r="4.42"/>
<circle cx="498.57" cy="399.55" r="4.42"/>
<circle cx="511.43" cy="399.55" r="4.42"/>
<circle cx="524.29" cy="399.55" r="4.42"/>
<circle cx="537.14" cy="399.55" r="4.42"/>
<circle cx="550.00" cy="399.55" r="4.42"/>
<circle cx="100.00" cy="412.43" r="4.42"/>
<circle cx="112.86" cy="412.43" r="4.42"/>
<circle cx="125.71" cy="412.43" r="4.42"/>
<circle cx="138.57" cy="412.43" r="4.42"/>
<circle cx="151.43" cy="412.43" r="4.42"/>
<circle cx="164.29" cy="412.43" r="4.42"/>
<circle cx="177.14" cy="412.43" r="4.42"/>
<circle cx="190.00" cy="412.43" r="4.42"/>
<circle cx="202.86" cy="412.43" r="4.42"/>
<circle cx="215.71" cy="412.43" r="4.42"/>
<circle cx="228.57" cy="412.43" r="4.42"/>
<circle cx="241.43" cy="412.43" r="4.42"/>
<circle cx="254.29" cy="412.43" r="4.42"/>
<circle cx="267.14" cy="412.43" r="4.42"/>
<circle cx="280.00" cy="412.43" r="4.42"/>
<circle cx="292.86" cy="412.43" r="4.42"/>
<circle cx="305.71" cy="412.43" r="4.42"/>
<circle cx="318.57" cy="412.43" r="4.42"/>
<circle cx="331.43" cy="412.43" r="4.42"/>
<circle cx="344.29" cy="412.43" r="4.42"/>
<circle cx="357.14" cy="412.43" r="4.42"/>
<circle cx="370.00" cy="412.43" r="4.42"/>
<circle cx="382.86" cy="412.43" r="4.42"/>
<circle cx="395.71" cy="412.43" r="4.42"/>
<circle cx="408.57" cy="412.43" r="4.42"/>
<circle cx="421.43" cy="412.43" r="4.42"/>
<circle cx="434.29" cy="412.43" r="4.42"/>
<circle cx="447.14" cy="412.43" r="4.42"/>
<circle cx="460.00" cy="412.43" r="4.42"/>
<circle cx="472.86" cy="412.43" r="4.42"/>
<circle cx="485.71" cy="412.43" r="4.42"/>
<circle cx="498.57" cy="412.43" r="4.42"/>
<circle cx="511.43" cy="412.43" r="4.42"/>
<circle cx="524.29" cy="412.43" r="4.42"/>
<circle cx="537.14" cy="412.43" r="4.42"/>
<circle cx="550.00" cy="412.43" r="4.42"/>
<circle cx="100.00" cy="425.30" r="4.42"/>
<circle cx="112.86" cy="425.30" r="4.42"/>
<circle cx="125.71" cy="425.30" r="4.42"/>
<circle cx="138.57" cy="425.30" r="4.42"/>
<circle cx="151.43" cy="425.30" r="4.42"/>
<circle cx="164.29" cy="425.30" r="4.42"/>
<circle cx="177.14" cy="425.30" r="4.42"/>
<circle cx="190.00" cy="425.30" r="4.42"/>
<circle cx="202.86" cy="425.30" r="4.42"/>
<circle cx="215.71" cy="425.30" r="4.42"/>
<circle cx="228.57" cy="425.30" r="4.42"/>
<circle cx="241.43" cy="425.30" r="4.42"/>
<circle cx="254.29" cy="425.30" r="4.42"/>
<circle cx="267.14" cy="425.30" r="4.42"/>
<circle cx="280.00" cy="425.30" r="4.42"/>
<circle cx="292.86" cy="425.30" r="4.42"/>
<circle cx="305.71" cy="425.30" r="4.42"/>
<circle cx="318.57" cy="425.30" r="4.42"/>
<circle cx="331.43" cy="425.30" r="4.42"/>
<circle cx="344.29" cy="425.30" r="4.42"/>
<circle cx="357.14" cy="425.30" r="4.42"/>
<circle cx="370.00" cy="425.30" r="4.42"/>
<circle cx="382.86" cy="425.30" r="4.42"/>
<circle cx="395.71" cy="425.30" r="4.42"/>
<circle cx="408.57" cy="425.30" r="4.42"/>
<circle cx="421.43" cy="425.30" r="4.42"/>
<circle cx="434.29" cy="425.30" r="4.42"/>
<circle cx="447.14" cy="425.30" r="4.42"/>
<circle cx="460.00" cy="425.30" r="4.42"/>
<circle cx="472.86" cy="425.30" r="4.42"/>
<circle cx="485.71" cy="425.30" r="4.42"/>
<circle cx="498.57" cy="425.30" r="4.42"/>
<circle cx="511.43" cy="425.30" r="4.42"/>
<circle cx="524.29" cy="425.30" r="4.42"/>
<circle cx="537.14" cy="425.30" r="4.42"/>
<circle cx="550.00" cy="425.30" r="4.42"/>
<circle cx="100.00" cy="438.18" r="4.42"/>
<circle cx="112.86" cy="438.18" r="4.42"/>
<circle cx="125.71" cy="438.18" r="4.42"/>
<circle cx="138.57" cy="438.18" r="4.42"/>
<circle cx="151.43" cy="438.18" r="4.42"/>
<circle cx="164.29" cy="438.18" r="4.42"/>
<circle cx="177.14" cy="438.18" r="4.42"/>
<circle cx="190.00" cy="438.18" r="4.42"/>
<circle cx="202.86" cy="438.18" r="4.42"/>
<circle cx="215.71" cy="438.18" r="4.42"/>
<circle cx="228.57" cy="438.18" r="4.42"/>
<circle cx="241.43" cy="438.18" r="4.42"/>
<circle cx="254.29" cy="438.18" r="4.42"/>
<circle cx="267.14" cy="438.18" r="4.42"/>
<circle cx="280.00" cy="438.18" r="4.42"/>
<circle cx="292.86" cy="438.18" r="4.42"/>
<circle cx="305.71" cy="438.18" r="4.42"/>
<circle cx="318.57" cy="438.18" r="4.42"/>
<circle cx="331.43" cy="438.18" r="4.42"/>
<circle cx="344.29" cy="438.18" r="4.42"/>
<circle cx="357.14" cy="438.18" r="4.42"/>
<circle cx="370.00" cy="438.18" r="4.42"/>
<circle cx="382.86" cy="438.18" r="4.42"/>
<circle cx="395.71" cy="438.18" r="4.42"/>
<circle cx="408.57" cy="438.18" r="4.42"/>
<circle cx="421.43" cy="438.18" r="4.42"/>
<circle cx="434.29" cy="438.18" r="4.42"/>
<circle cx="447.14" cy="438.18" r="4.42"/>
<circle cx="460.00" cy="438.18" r="4.42"/>
<circle cx="472.86" cy="438.18" r="4.42"/>
<circle cx="485.71" cy="438.18" r="4.42"/>
<circle cx="498.57" cy="438.18" r="4.42"/>
<circle cx="511.43" cy="438.18" r="4.42"/>
<circle cx="524.29" cy="438.18" r="4.42"/>
<circle cx="537.14" cy="438.18" r="4.42"/>
</g>
<circle cx="100.00" cy="64.80" r="5.0" fill="#0b7ef0"/>
<circle cx="100.00" cy="193.55" r="5.0" fill="#008282"/>
<circle cx="100.00" cy="322.30" r="5.0" fill="#860000"/>
<circle cx="550.00" cy="438.18" r="5.0" fill="#922490"/>
<g letter-spacing="0.3">
<text x="33.4" y="68.1" font-size="12" fill="#1474e0">Birth</text>
<text x="42.9" y="192" font-size="12" fill="#007676" text-anchor="middle">30th</text>
<text x="43.1" y="205.6" font-size="12" fill="#007676" text-anchor="middle">Birthday</text>
<text x="42.9" y="318.7" font-size="12" fill="#7a0008" text-anchor="middle">60th</text>
<text x="43.1" y="332.9" font-size="12" fill="#7a0008" text-anchor="middle">Birthday</text>
<text x="571.8" y="463.5" font-size="12.3" fill="#841e80" text-anchor="middle">Turning</text>
<text x="572.1" y="478.0" font-size="12.3" fill="#841e80" text-anchor="middle">90</text>
</g>
<g stroke="#1474e0" stroke-width="2" fill="none" stroke-linecap="round" stroke-linejoin="round">
<line x1="67" y1="64.1" x2="87.5" y2="64.1"/><polyline points="83.3,61.3 87.6,64.1 83.3,66.9"/>
</g>
<g stroke="#007676" stroke-width="2" fill="none" stroke-linecap="round" stroke-linejoin="round">
<line x1="72" y1="193.8" x2="90" y2="193.8"/><polyline points="86,191 90.2,193.8 86,196.6"/>
</g>
<g stroke="#7a0008" stroke-width="2" fill="none" stroke-linecap="round" stroke-linejoin="round">
<line x1="73.2" y1="322.9" x2="89.8" y2="322.9"/><polyline points="85.6,320.1 89.9,322.9 85.6,325.7"/>
</g>
<g stroke="#841e80" stroke-width="1.8" fill="none" stroke-linecap="round" stroke-linejoin="round">
<path d="M571,453 Q567,444.5 558.2,441.4"/><polyline points="563,440 557.8,441.4 560.6,446.2"/>
</g>
<text x="290.3" y="485.6" font-size="8.4" fill="#222" letter-spacing="0.02">waitbutwhy<tspan fill="#bbb">.</tspan><tspan x="338.8" font-size="8.1">com</tspan></text>
</svg>
</body></html>
